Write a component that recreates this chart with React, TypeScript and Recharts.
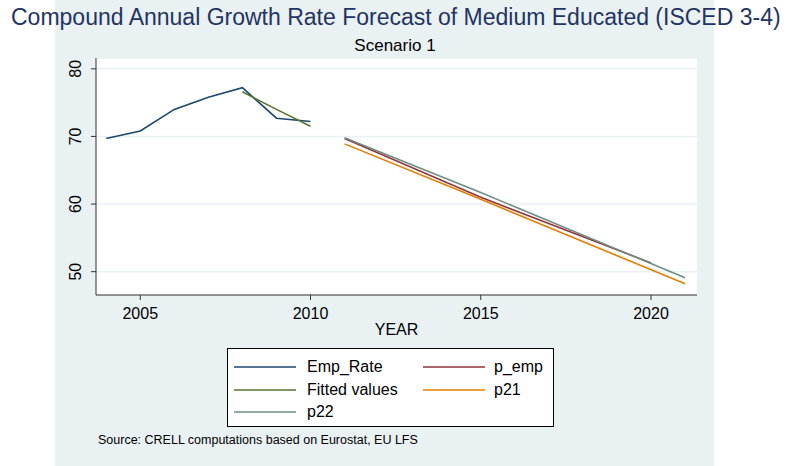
import { LineChart, Line, XAxis, YAxis, CartesianGrid } from 'recharts';

const years = [2004, 2005, 2006, 2007, 2008, 2009, 2010, 2011, 2015, 2020, 2021];

// values; null = no point in that year
const empRate = [69.7, 70.8, 74.0, 75.8, 77.2, 72.7, 72.2, null, null, null, null];
const fitted = [null, null, null, null, 76.6, 74.0, 71.5, null, null, null, null];
const pEmp = [null, null, null, null, null, null, null, 69.7, 61.0, 51.3, null];
const p21 = [null, null, null, null, null, null, null, 68.9, 60.7, null, 48.2];
const p22 = [null, null, null, null, null, null, null, 69.8, 61.7, null, 49.1];

const xTicks = [2005, 2010, 2015, 2020];
const yTicks = [50, 60, 70, 80];

const series = [
  { key: 'Emp_Rate', values: empRate, color: '#1a476f' },
  { key: 'Fitted values', values: fitted, color: '#55752f' },
  { key: 'p_emp', values: pEmp, color: '#90353b' },
  { key: 'p21', values: p21, color: '#e37e00' },
  { key: 'p22', values: p22, color: '#6e8e84' },
];

const data = years.map((year, i) => {
  const row: Record<string, number | null> = { year };
  series.forEach((s) => {
    row[s.key] = s.values[i];
  });
  return row;
});

const FONT = '"Liberation Sans", Arial, sans-serif';

function YTick({ x, y, payload }: any) {
  return (
    <text
      transform={`translate(${x - 8},${y}) rotate(-90)`}
      textAnchor="middle"
      fontSize={16}
      fontFamily={FONT}
      fill="#000"
    >
      {payload.value}
    </text>
  );
}

// legend order: Emp_Rate, p_emp / Fitted values, p21 / p22
const legendOrder = ['Emp_Rate', 'p_emp', 'Fitted values', 'p21', 'p22'];

function LegendBox() {
  const items = legendOrder.map((k) => series.find((s) => s.key === k)!);
  return (
    <div
      style={{
        position: 'absolute',
        left: 227,
        top: 348,
        width: 327,
        height: 79,
        boxSizing: 'border-box',
        border: '1px solid #000',
        background: '#fff',
        fontFamily: FONT,
        fontSize: 16,
      }}
    >
      {items.map((s, i) => {
        const col = i % 2;
        const row = Math.floor(i / 2);
        return (
          <div
            key={s.key}
            style={{
              position: 'absolute',
              left: col === 0 ? 6 : 195,
              top: 18 + row * 22.5 - 10,
              height: 20,
              display: 'flex',
              alignItems: 'center',
              whiteSpace: 'nowrap',
            }}
          >
            <svg width={62} height={4} style={{ display: 'block' }}>
              <line x1={0} y1={2} x2={62} y2={2} stroke={s.color} strokeWidth={1.6} />
            </svg>
            <span style={{ marginLeft: col === 0 ? 11 : 9, color: '#000' }}>{s.key}</span>
          </div>
        );
      })}
    </div>
  );
}

export default function App() {
  return (
    <div style={{ position: 'absolute', left: 0, top: 0, width: 790, height: 466, background: '#fff', overflow: 'hidden' }}>
      <div style={{ position: 'absolute', left: 55, top: 0, width: 659, height: 466, background: '#eaf1f3' }} />
      <div
        style={{
          position: 'absolute',
          left: 11,
          top: 4,
          fontFamily: FONT,
          fontSize: 23,
          color: '#233464',
          whiteSpace: 'nowrap',
        }}
      >
        Compound Annual Growth Rate Forecast of Medium Educated (ISCED 3-4)
      </div>
      <div
        style={{
          position: 'absolute',
          left: 0,
          width: 790,
          top: 36,
          textAlign: 'center',
          fontFamily: FONT,
          fontSize: 17,
          color: '#000',
        }}
      >
        Scenario 1
      </div>
      <div style={{ position: 'absolute', left: 0, top: 0 }}>
        <LineChart width={790} height={466} data={data} margin={{ top: 58, right: 93, bottom: 129, left: 56 }}>
          <CartesianGrid vertical={false} stroke="#eaf1f3" fill="#fff" strokeWidth={1.5} />
          <XAxis
            dataKey="year"
            type="number"
            domain={[2003.7, 2021.35]}
            ticks={xTicks}
            allowDataOverflow
            height={42}
            tickSize={5}
            stroke="#333"
            tick={{ fontSize: 16, fontFamily: FONT, fill: '#000', dy: 6 }}
            label={{ value: 'YEAR', position: 'insideBottom', offset: 2, fontSize: 16, fontFamily: FONT, fill: '#000' }}
          />
          <YAxis
            type="number"
            domain={[46.55, 81.6]}
            ticks={yTicks}
            allowDataOverflow
            width={40}
            tickSize={5}
            stroke="#333"
            tick={<YTick />}
          />
          {series.map((s) => (
            <Line
              key={s.key}
              dataKey={s.key}
              stroke={s.color}
              strokeWidth={1.6}
              dot={false}
              connectNulls
              isAnimationActive={false}
            />
          ))}
        </LineChart>
      </div>
      <LegendBox />
      <div
        style={{
          position: 'absolute',
          left: 98,
          top: 433,
          fontFamily: FONT,
          fontSize: 12.5,
          color: '#000',
        }}
      >
        Source: CRELL computations based on Eurostat, EU LFS
      </div>
    </div>
  );
}
